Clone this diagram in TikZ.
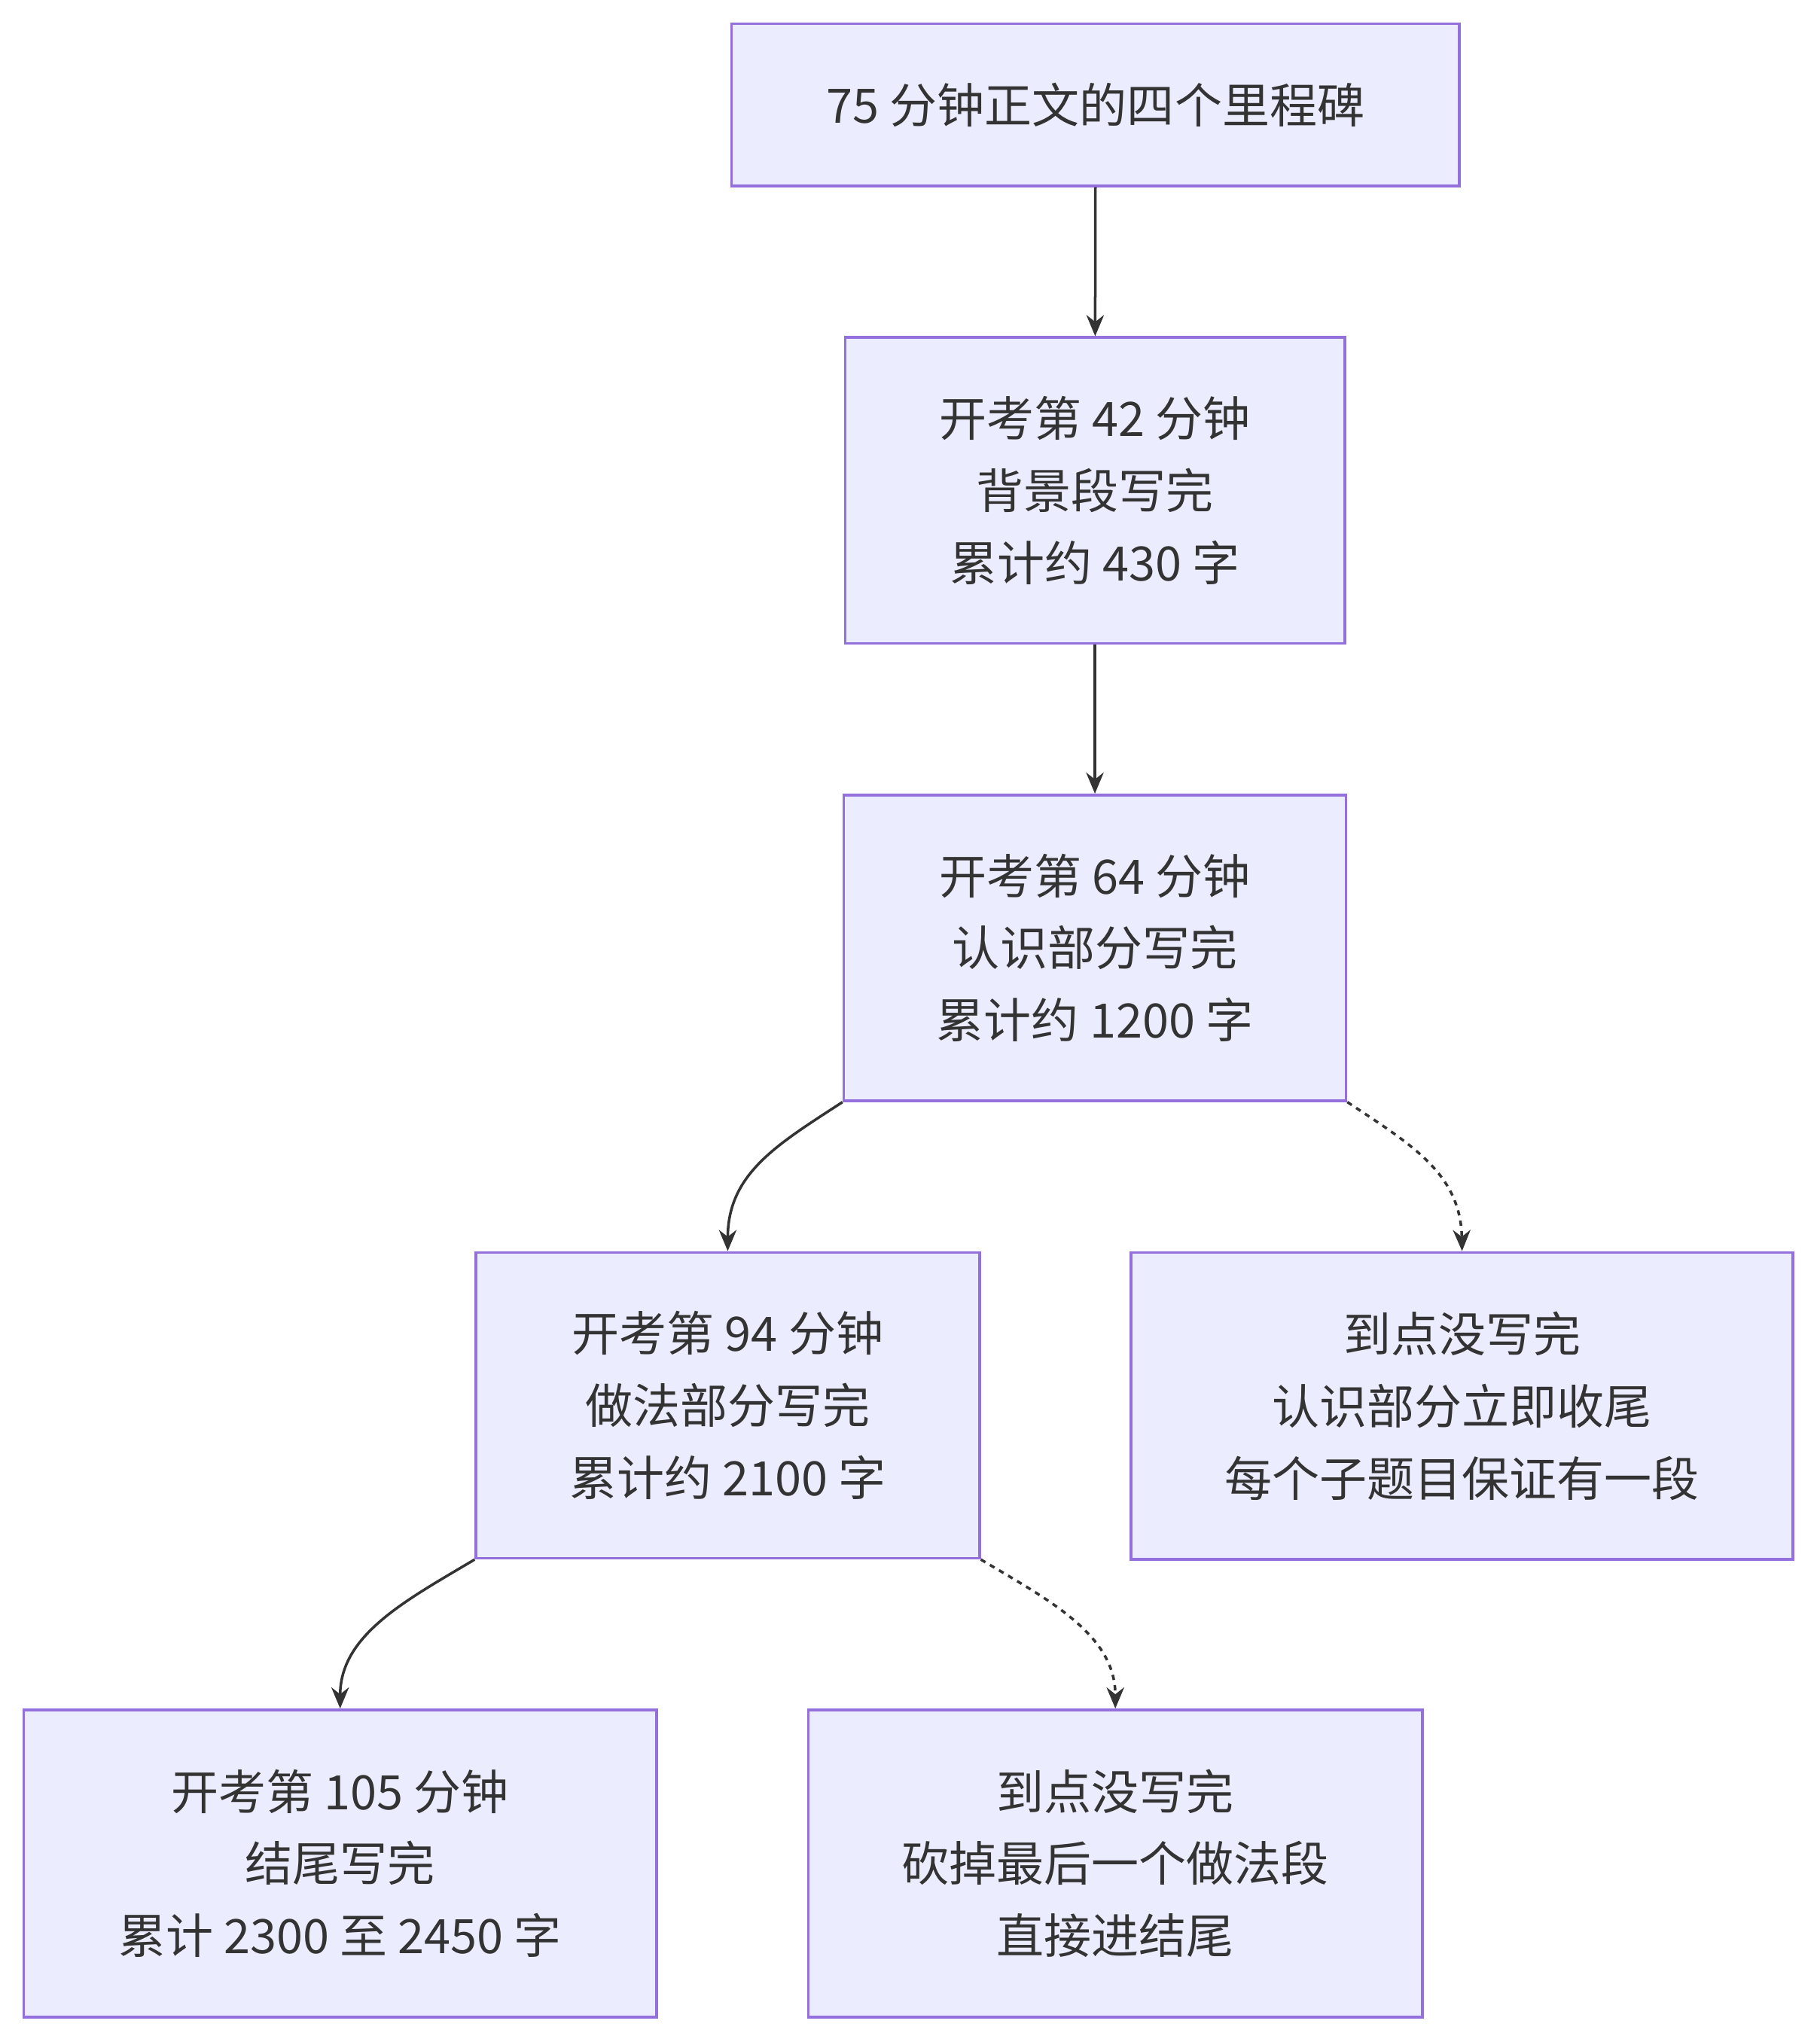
\documentclass[tikz,border=0pt]{standalone}
\usepackage{fontspec}
\setmainfont{Noto Sans CJK SC}
\usetikzlibrary{arrows.meta}
\definecolor{boxfill}{HTML}{ECECFF}
\definecolor{boxline}{HTML}{9370DB}
\definecolor{ink}{HTML}{333333}
\begin{document}
\begin{tikzpicture}[x=0.75pt,y=0.75pt,yscale=-1,xscale=1,
  box/.style={draw=boxline,fill=boxfill,line width=1.5pt,text=ink,align=center,
    font=\fontsize{27}{41}\selectfont,inner sep=0pt},
  flow/.style={draw=ink,line width=1.5pt,-{Stealth[length=12pt,width=10pt]}},
  maybe/.style={flow,dash pattern=on 3pt off 3pt}]
\useasboundingbox (0,0) rectangle (1380,1549);

% milestone boxes
\node[box,minimum width=414pt,minimum height=92.25pt] (title) at (831,79.5) {75 分钟正文的四个里程碑};
\node[box,minimum width=284.25pt,minimum height=174pt] (m42) at (830.5,372) {开考第 42 分钟\\背景段写完\\累计约 430 字};
\node[box,minimum width=285.75pt,minimum height=174pt] (m64) at (830.5,719) {开考第 64 分钟\\认识部分写完\\累计约 1200 字};
\node[box,minimum width=286.5pt,minimum height=174pt] (m94) at (552,1066) {开考第 94 分钟\\做法部分写完\\累计约 2100 字};
\node[box,minimum width=376.5pt,minimum height=174.75pt] (late1) at (1109,1066.5) {到点没写完\\认识部分立即收尾\\每个子题目保证有一段};
\node[box,minimum width=360pt,minimum height=174.75pt] (m105) at (258,1413.5) {开考第 105 分钟\\结尾写完\\累计 2300 至 2450 字};
\node[box,minimum width=349.5pt,minimum height=174.75pt] (late2) at (846,1413.5) {到点没写完\\砍掉最后一个做法段\\直接进结尾};

% connectors
\draw[flow] (title) -- (m42);
\draw[flow] (m42) -- (m64);
\draw[flow] (m64.south west) .. controls (590,868) and (552,890) .. (m94.north);
\draw[maybe] (m64.south east) .. controls (1070,868) and (1108,890) .. (late1.north);
\draw[flow] (m94.south west) .. controls (308,1214) and (258,1240) .. (m105.north);
\draw[maybe] (m94.south east) .. controls (796,1214) and (846,1240) .. (late2.north);
\end{tikzpicture}
\end{document}
